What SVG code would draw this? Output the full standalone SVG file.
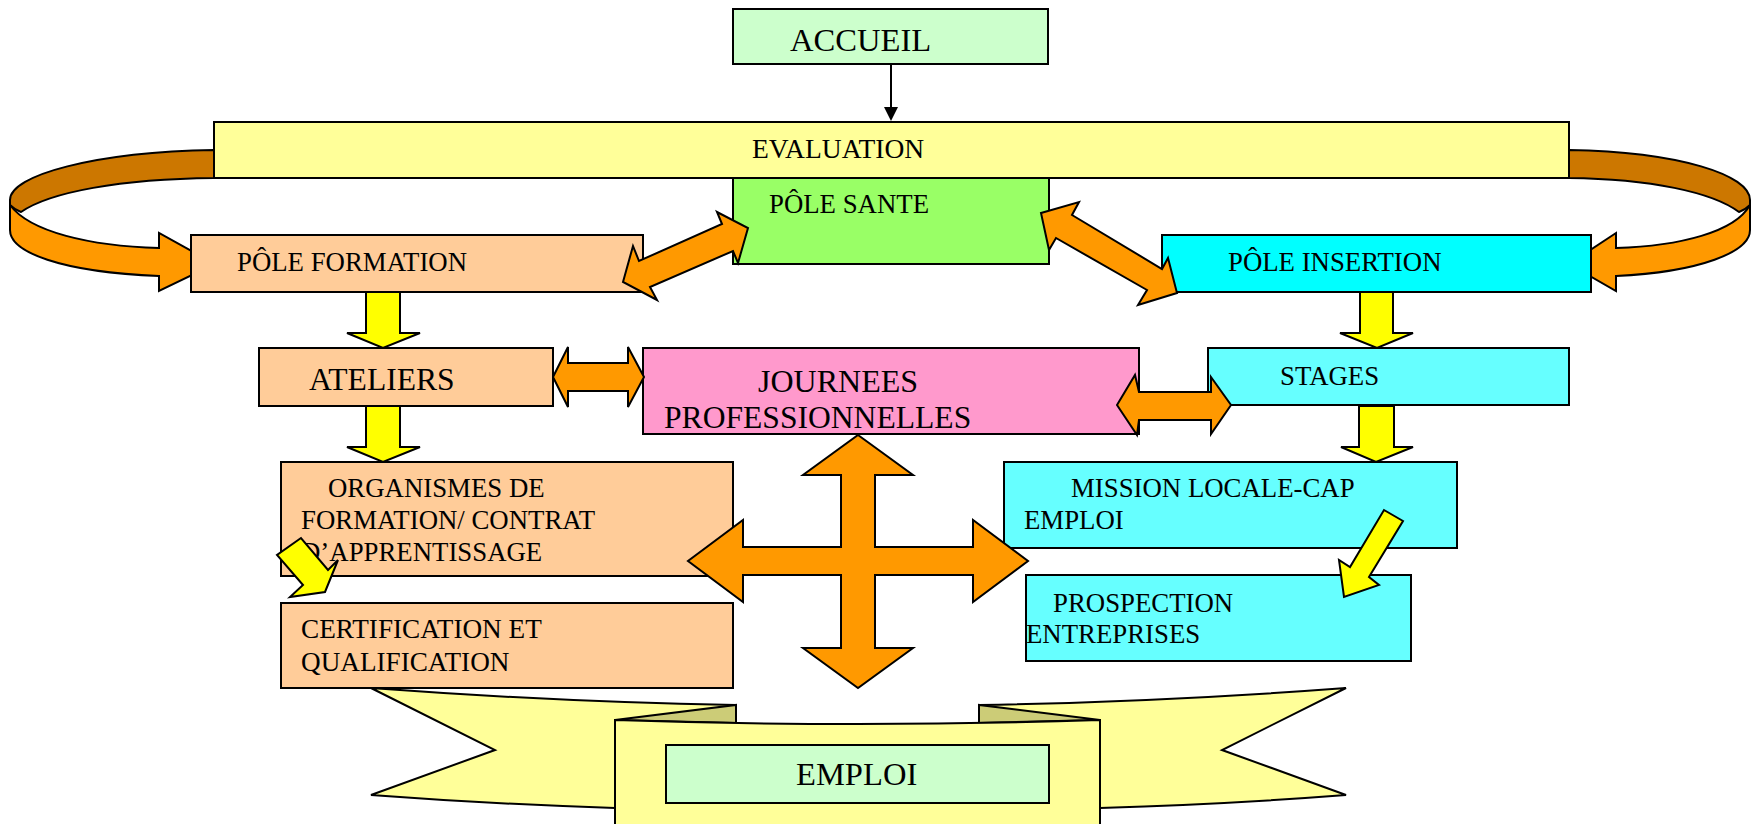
<svg xmlns="http://www.w3.org/2000/svg" width="1758" height="824" viewBox="0 0 1758 824">
<style>
.b{stroke:#000;stroke-width:2}
.t{font-family:"Liberation Serif","Times New Roman",serif;fill:#000}
.s{font-size:26.8px}
.l{font-size:31.6px}
.x{font-size:32.6px}
.or{fill:#FF9900;stroke:#000;stroke-width:2;stroke-linejoin:miter}
.ye{fill:#FFFF00;stroke:#000;stroke-width:2}
.br{fill:#CC7700;stroke:#000;stroke-width:2}
.peach{fill:#FFCC99}
.cyan{fill:#00FFFF}
.lcyan{fill:#66FFFF}
</style>
<rect width="1758" height="824" fill="#fff"/>

<g id="emploi-banner">
<path class="b" fill="#FFFF99" d="M371,688 Q560,702 736,705 L736,760 L615,808 Q490,804 371,795 L495,750 Z"/>
<path class="b" fill="#FFFF99" d="M1346,688 Q1160,702 979,705 L979,760 L1100,808 Q1230,804 1346,795 L1222,750 Z"/>
<path class="b" fill="#CCCC77" d="M615,720 L736,705 L736,723 Z"/>
<path class="b" fill="#CCCC77" d="M1100,720 L979,705 L979,723 Z"/>
<path class="b" fill="#FFFF99" d="M615,720 Q858,728 1100,720 L1100,830 L615,830 Z"/>
</g>

<g id="accueil">
<rect class="b" x="733" y="9" width="315" height="55" fill="#CCFFCC"/>
<text class="t x" x="790" y="51">ACCUEIL</text>
</g>

<g id="loops">
<path class="br" d="M214,150 C95,152 10,175 10,200 L10,205 C14,209 18,211 21,212 C50,192 120,179 214,178 Z"/>
<path class="or" d="M10,205 C30,232 90,246 159,248 L159,233 L215,264 L159,291 L159,276 C60,272 10,252 10,230 Z"/>
<path class="br" d="M1569,150 C1680,152 1750,175 1750,200 L1750,205 C1746,209 1742,211 1739,212 C1712,192 1650,179 1569,178 Z"/>
<path class="or" d="M1750,205 C1735,232 1680,246 1616,248 L1616,233 L1569,264 L1616,291 L1616,276 C1700,272 1750,252 1750,230 Z"/>
</g>

<g id="evaluation">
<rect class="b" x="214" y="122" width="1355" height="56" fill="#FFFF99"/>
<text class="t" style="font-size:27.5px" x="752" y="158">EVALUATION</text>
</g>

<g id="pole-sante">
<rect class="b" x="733" y="178" width="316" height="86" fill="#99FF66"/>
<text class="t s" x="769" y="213">PÔLE SANTE</text>
</g>

<g id="pole-formation">
<rect class="b peach" x="191" y="235" width="452" height="57"/>
<text class="t s" x="237" y="271">PÔLE FORMATION</text>
</g>

<g id="pole-insertion">
<rect class="b cyan" x="1162" y="235" width="429" height="57"/>
<text class="t s" x="1228" y="271">PÔLE INSERTION</text>
</g>

<g id="ateliers">
<rect class="b peach" x="259" y="348" width="294" height="58"/>
<text class="t l" x="309" y="390">ATELIERS</text>
</g>

<g id="journees">
<rect class="b" x="643" y="348" width="496" height="86" fill="#FF99CC"/>
<text class="t" style="font-size:32px" x="758" y="392">JOURNEES</text>
<text class="t l" x="664" y="428">PROFESSIONNELLES</text>
</g>

<g id="stages">
<rect class="b lcyan" x="1208" y="348" width="361" height="57"/>
<text class="t s" x="1280" y="385">STAGES</text>
</g>

<g id="organismes">
<rect class="b peach" x="281" y="462" width="452" height="114"/>
<text class="t s" x="328" y="497">ORGANISMES DE</text>
<text class="t s" x="301" y="529">FORMATION/ CONTRAT</text>
<text class="t s" x="301" y="561">D’APPRENTISSAGE</text>
</g>

<g id="certification">
<rect class="b peach" x="281" y="603" width="452" height="85"/>
<text class="t" style="font-size:27.2px" x="301" y="638">CERTIFICATION ET</text>
<text class="t" style="font-size:27.2px" x="301" y="671">QUALIFICATION</text>
</g>

<g id="mission-locale">
<rect class="b lcyan" x="1004" y="462" width="453" height="86"/>
<text class="t s" x="1071" y="497">MISSION LOCALE-CAP</text>
<text class="t s" x="1024" y="529">EMPLOI</text>
</g>

<g id="prospection">
<rect class="b lcyan" x="1026" y="575" width="385" height="86"/>
<text class="t s" x="1053" y="612">PROSPECTION</text>
<text class="t s" x="1026" y="643">ENTREPRISES</text>
</g>

<g id="emploi">
<rect class="b" x="666" y="745" width="383" height="58" fill="#CCFFCC"/>
<text class="t x" x="796" y="785">EMPLOI</text>
</g>

<g id="connectors">
<line x1="891" y1="64" x2="891" y2="108" stroke="#000" stroke-width="2"/>
<polygon points="884,107 898,107 891,121" fill="#000"/>
<polygon class="or" points="623,282 633,246 639,261 722,224 717,212 748,228 738,263 733,251 650,287 657,300"/>
<polygon class="or" points="1041,213 1079,202 1072,215 1162,269 1168,258 1177,293 1138,305 1147,290 1056,238 1049,250"/>
<polygon class="or" points="553,377 568,347 568,363 628,363 628,347 644,377 628,407 628,391 568,391 568,407"/>
<polygon class="or" points="1117,405 1135,375 1139,392 1211,392 1211,377 1231,405 1211,434 1211,420 1139,420 1137,435"/>
<polygon class="or" points="858,435 913,475 875,475 875,547 973,547 973,520 1028,561 973,602 973,575 875,575 875,648 913,648 858,688 803,648 841,648 841,575 743,575 743,602 688,561 743,520 743,547 841,547 841,475 803,475"/>
<polygon class="ye" points="366,292 400,292 400,333 420,333 383,348 347,333 366,333"/>
<polygon class="ye" points="366,406 400,406 400,447 420,447 383,462 347,447 366,447"/>
<polygon class="ye" points="1360,292 1393,292 1393,333 1413,333 1377,348 1340,333 1360,333"/>
<polygon class="ye" points="1359,406 1394,406 1394,447 1413,447 1376,462 1341,447 1359,447"/>
<polygon class="ye" points="301,538 277,555 303,585 290,597 325,592 338,560 328,570"/>
<polygon class="ye" points="1384,510 1403,521 1369,577 1379,585 1344,597 1339,560 1350,567"/>
</g>
</svg>
